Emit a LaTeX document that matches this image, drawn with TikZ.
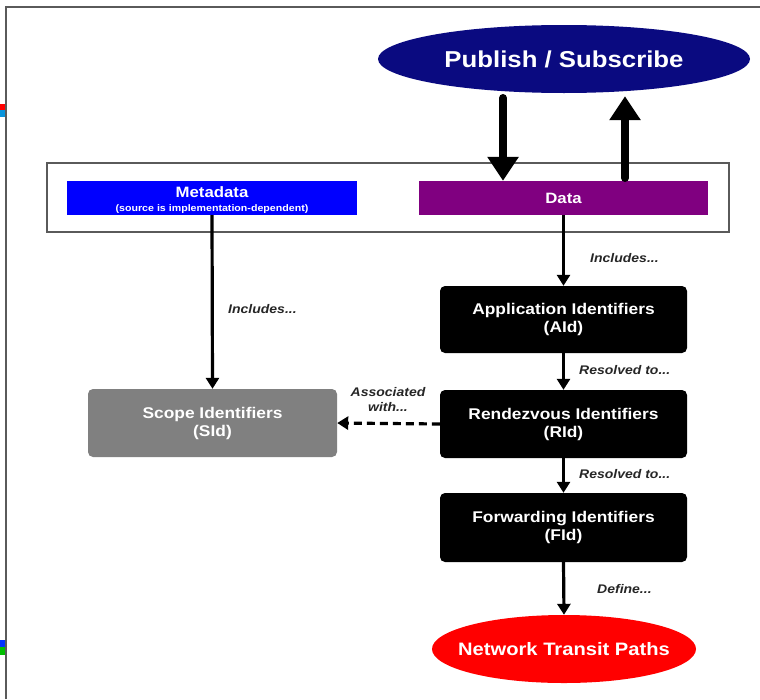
\documentclass[tikz,border=0pt]{standalone}
\usepackage{fontspec}
\setmainfont{Liberation Sans}[FakeStretch=1.12]
\usetikzlibrary{arrows.meta,shapes.geometric,calc}
\definecolor{navyell}{HTML}{0A0A80}
\definecolor{metablue}{HTML}{0000FF}
\definecolor{datapurple}{HTML}{800080}
\definecolor{scopegray}{HTML}{808080}
\definecolor{pathred}{HTML}{FF0000}
\definecolor{framegray}{HTML}{5A5A5A}
\tikzset{
  idbox/.style={fill=black, rounded corners=5pt, text=white, font=\bfseries\fontsize{15.5}{18}\selectfont, align=center, minimum width=247pt, minimum height=68pt, inner sep=0pt},
  flatbox/.style={text=white, font=\bfseries\fontsize{15}{17}\selectfont, align=center, minimum height=34pt, inner sep=0pt},
  lbl/.style={font=\bfseries\itshape\fontsize{12.5}{14}\selectfont, text=black!85, inner sep=0pt},
  thinarrow/.style={line width=3.2pt, -{Triangle[width=13pt,length=11pt]}},
  thickarrow/.style={line width=8pt, line cap=round, -{Triangle[width=30pt,length=24pt]}}
}
\begin{document}
\begin{tikzpicture}[x=1pt,y=-1pt]
\useasboundingbox (0,0) rectangle (760,699);
% frame and edge artifacts
\draw[framegray, line width=1.5pt] (6,699) -- (6,7) -- (760,7);
\fill[red] (0,104) rectangle (5,110);
\fill[cyan!80!blue] (0,110) rectangle (5,117);
\fill[blue!80!cyan] (0,640) rectangle (5,647);
\fill[green!75!black] (0,647) rectangle (5,655);
% outer container
\draw[framegray, line width=1.3pt] (47,163) rectangle (729,232);
% nodes
\node[ellipse, fill=navyell, text=white, minimum width=372pt, minimum height=68pt, inner sep=0pt, font=\bfseries\fontsize{23}{26}\selectfont] (pubsub) at (564,59) {\makebox[0pt]{Publish / Subscribe}};
\node[flatbox, fill=metablue, minimum width=290pt] (meta) at (212,198) {\raisebox{-7pt}[0pt][0pt]{\begin{tabular}{@{}c@{}}Metadata\\[-3pt]{\fontsize{9.5}{11}\selectfont(source is implementation-dependent)}\end{tabular}}};
\node[flatbox, fill=datapurple, minimum width=289pt] (data) at (563.5,198) {Data};
\node[idbox, fill=scopegray, minimum width=249pt] (scope) at (212.5,423) {Scope Identifiers\\(SId)};
\node[idbox, minimum height=67pt] (aid) at (563.5,319.5) {Application Identifiers\\(AId)};
\node[idbox] (rid) at (563.5,424) {Rendezvous Identifiers\\(RId)};
\node[idbox, minimum height=69pt] (fid) at (563.5,527.5) {Forwarding Identifiers\\(FId)};
\node[ellipse, fill=pathred, text=white, minimum width=264pt, minimum height=68pt, inner sep=0pt, font=\bfseries\fontsize{18}{21}\selectfont] (ntp) at (564,649) {\makebox[0pt]{Network Transit Paths}};
% thick pub/sub arrows
\coordinate (dn) at (503,98);
\coordinate (up) at (625,178);
\draw[thickarrow] (dn) -- (dn |- data.north);
\draw[thickarrow] (up) -- ($(up |- pubsub.south)+(0,3)$);
% thin arrows
\draw[thinarrow] (meta.south) -- (scope.north);
\draw[thinarrow] (data.south) -- (aid.north);
\draw[thinarrow] (aid.south) -- (rid.north);
\draw[thinarrow] (rid.south) -- (fid.north);
\draw[thinarrow] (fid.south) -- (ntp.north);
\draw[thinarrow, dash pattern=on 8pt off 5pt] (rid.west) -- (scope.east);
% labels
\node[lbl, anchor=west] (l1) at (590,258) {Includes...};
\node[lbl, anchor=west] (l2) at (228,309) {Includes...};
\node[lbl, anchor=west] (l3) at (579,370) {Resolved to...};
\node[lbl, anchor=west] (l4) at (579,474) {Resolved to...};
\node[lbl, anchor=west] (l5) at (597,589) {Define...};
\node[lbl, align=center] (l6) at (388,400) {Associated\\[1pt]with...};
\end{tikzpicture}
\end{document}
